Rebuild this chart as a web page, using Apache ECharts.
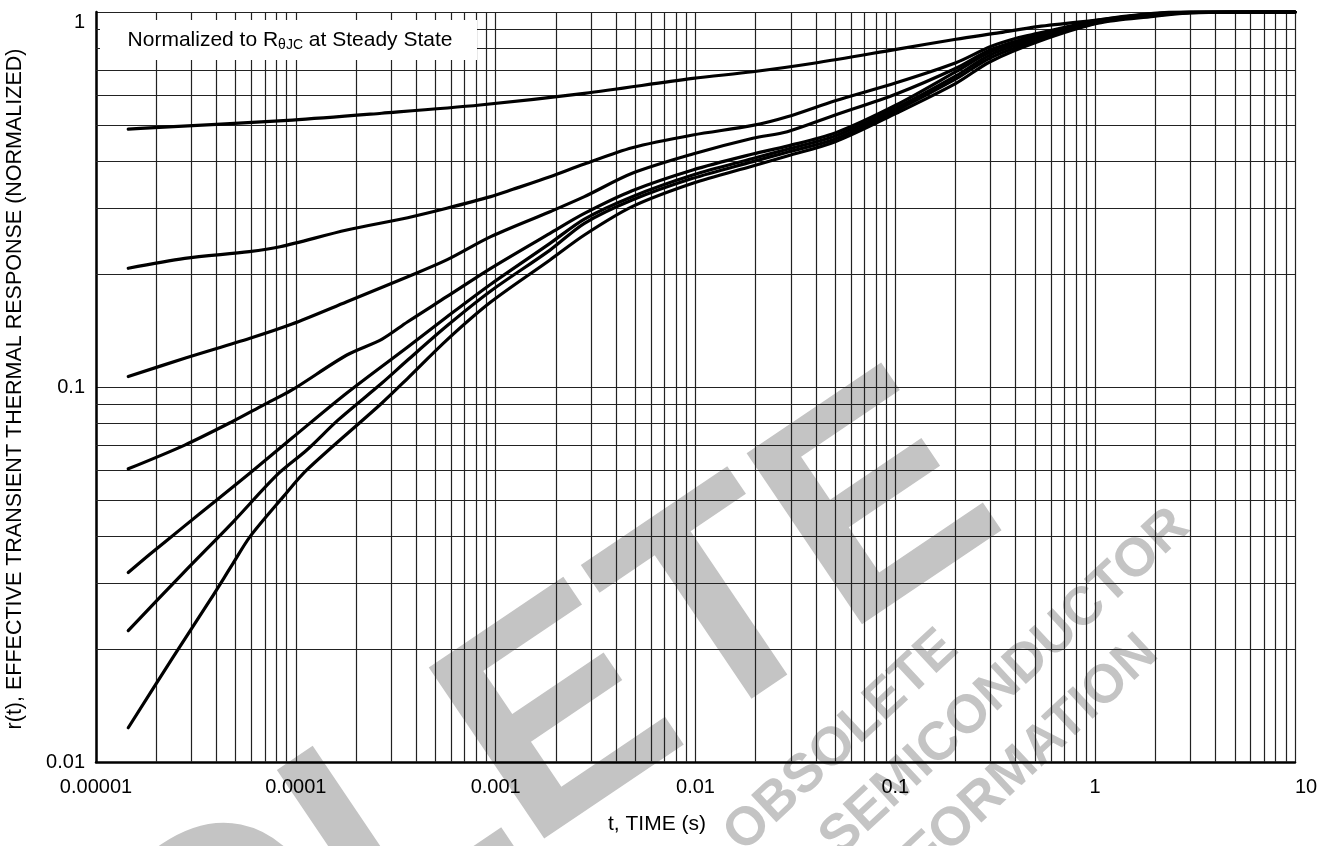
<!DOCTYPE html>
<html>
<head>
<meta charset="utf-8">
<script src="https://cdn.jsdelivr.net/npm/echarts@6/dist/echarts.min.js"></script>
<style>
html,body{margin:0;padding:0;background:#fff;}
#chart{width:1325px;height:846px;}
</style>
</head>
<body>
<div id="chart"></div>
<script>
// ---- data (t in seconds, r(t) normalized) ----
const xTickLabels = ['0.00001', '0.0001', '0.001', '0.01', '0.1', '1', '10'];
const yTickLabels = ['0.01', '0.1', '1'];
const minorMultipliers = [2, 3, 4, 5, 6, 7, 8, 9];
const xDecades = [-5, -4, -3, -2, -1, 0];
const yDecades = [-2, -1];

const curve1 = [[1.45e-5,0.487],[1.86e-5,0.491],[9.6e-5,0.515],[2.69e-4,0.537],[8.35e-4,0.565],[2.78e-3,0.607],[9.69e-3,0.665],[1.935e-2,0.693],[3.9e-2,0.730],[0.101,0.795],[0.201,0.846],[0.334,0.881],[0.516,0.914],[1.03,0.952],[1.96,0.988],[3.0,0.998],[10,1.0]];
const curve2 = [[1.45e-5,0.2073],[2.78e-5,0.2203],[5.85e-5,0.2295],[8.34e-5,0.2366],[1.80e-4,0.2622],[3.63e-4,0.2828],[5.69e-4,0.2996],[9.45e-4,0.3218],[1.22e-3,0.3366],[1.87e-3,0.3637],[2.78e-3,0.3933],[4.82e-3,0.4346],[9.69e-3,0.4699],[1.935e-2,0.4983],[2.88e-2,0.5256],[5.0e-2,0.580],[0.101,0.6477],[0.201,0.7324],[0.298,0.808],[0.403,0.851],[0.516,0.877],[0.730,0.914],[1.03,0.952],[1.96,0.992],[3.0,0.999],[10,1.0]];
const curve3 = [[1.45e-5,0.1066],[2.78e-5,0.1193],[5.9e-5,0.1349],[9.57e-5,0.1472],[1.80e-4,0.1688],[3.63e-4,0.1968],[5.69e-4,0.2182],[9.45e-4,0.2517],[1.87e-3,0.2934],[2.78e-3,0.3218],[4.82e-3,0.3714],[9.69e-3,0.4181],[1.935e-2,0.4605],[2.88e-2,0.4796],[5.0e-2,0.5312],[0.101,0.6044],[0.201,0.7078],[0.298,0.792],[0.516,0.868],[1.03,0.946],[1.96,0.988],[3.0,0.998],[10,1.0]];
const curve4 = [[1.45e-5,0.0605],[2.78e-5,0.0700],[4.8e-5,0.0808],[6.88e-5,0.0895],[9.57e-5,0.0982],[1.80e-4,0.1217],[2.69e-4,0.1340],[3.63e-4,0.1493],[5.69e-4,0.1741],[9.45e-4,0.2073],[1.87e-3,0.2570],[2.78e-3,0.2904],[4.82e-3,0.3338],[9.69e-3,0.3791],[1.935e-2,0.418],[2.88e-2,0.439],[5.0e-2,0.4757],[0.101,0.5649],[0.201,0.6932],[0.298,0.782],[0.516,0.863],[1.03,0.943],[1.96,0.985],[3.0,0.997],[10,1.0]];
const curve5 = [[1.45e-5,0.0320],[1.86e-5,0.0358],[2.73e-5,0.0423],[4.02e-5,0.0500],[5.9e-5,0.0590],[9.57e-5,0.0731],[1.80e-4,0.0964],[3.63e-4,0.1279],[5.69e-4,0.1537],[9.45e-4,0.188],[1.87e-3,0.2416],[2.78e-3,0.2805],[4.82e-3,0.3218],[9.69e-3,0.3675],[1.935e-2,0.4066],[2.88e-2,0.4305],[5.0e-2,0.467],[0.101,0.5546],[0.201,0.6752],[0.298,0.768],[0.516,0.852],[1.03,0.940],[1.96,0.982],[3.0,0.997],[10,1.0]];
const curve6 = [[1.45e-5,0.0224],[2.73e-5,0.0319],[4.86e-5,0.0437],[8.03e-5,0.0582],[1.135e-4,0.0679],[1.63e-4,0.0817],[2.69e-4,0.1023],[3.63e-4,0.1180],[5.69e-4,0.1454],[9.45e-4,0.1803],[1.87e-3,0.2318],[2.78e-3,0.2732],[4.82e-3,0.3152],[9.69e-3,0.3601],[1.935e-2,0.399],[2.88e-2,0.4228],[5.0e-2,0.4585],[0.101,0.5462],[0.201,0.663],[0.298,0.754],[0.516,0.842],[1.03,0.937],[1.96,0.979],[3.0,0.996],[10,1.0]];
const curve7 = [[1.45e-5,0.01234],[2.44e-5,0.0191],[3.72e-5,0.0270],[4.86e-5,0.0339],[5.9e-5,0.0399],[8.66e-5,0.0510],[1.135e-4,0.0601],[2.69e-4,0.0905],[3.63e-4,0.1055],[5.69e-4,0.1334],[9.45e-4,0.1685],[1.87e-3,0.2182],[2.78e-3,0.2543],[4.82e-3,0.3026],[9.69e-3,0.3493],[1.935e-2,0.3885],[2.88e-2,0.413],[5.0e-2,0.4509],[0.101,0.537],[0.201,0.6455],[0.298,0.737],[0.516,0.833],[1.03,0.933],[1.96,0.973],[3.0,0.995],[10,1.0]];
const curves = [curve1, curve2, curve3, curve4, curve5, curve6, curve7];

const axisTitleX = 't, TIME (s)';
const axisTitleY = 'r(t), EFFECTIVE TRANSIENT THERMAL RESPONSE (NORMALIZED)';
const FONT = 'Liberation Sans, Arial, Helvetica, sans-serif';

// minor grid values (2..9 within each decade)
const xMinor = [];
xDecades.forEach(e => minorMultipliers.forEach(m => xMinor.push(m * Math.pow(10, e))));
const yMinor = [];
yDecades.forEach(e => minorMultipliers.forEach(m => yMinor.push(m * Math.pow(10, e))));

const gridLineColor = '#222';

const chart = echarts.init(document.getElementById('chart'), null, {renderer: 'canvas'});

const markLineData = xMinor.map(v => ({xAxis: v})).concat(yMinor.map(v => ({yAxis: v})));

const series = curves.map((d, i) => ({
  type: 'line',
  data: d,
  symbol: 'none',
  showSymbol: false,
  smooth: 0.3,
  clip: false,
  z: 5,
  lineStyle: {color: '#000', width: 3.2, cap: 'round', join: 'round'},
  silent: true
}));
series.push({
  type: 'line',
  data: [],
  symbol: 'none',
  z: 1,
  silent: true,
  markLine: {
    silent: true,
    symbol: 'none',
    precision: 12,
    animation: false,
    label: {show: false},
    lineStyle: {color: gridLineColor, width: 1.2, type: 'solid'},
    emphasis: {disabled: true},
    data: markLineData
  }
});

const option = {
  animation: false,
  backgroundColor: '#fff',
  grid: {left: 96, right: 30, top: 12, bottom: 84, containLabel: false},
  xAxis: {
    type: 'log', logBase: 10, min: 1e-5, max: 10, splitNumber: 6,
    axisLine: {show: true, onZero: false, lineStyle: {color: '#000', width: 2.5}},
    axisTick: {show: false},
    axisLabel: {
      color: '#000', fontSize: 20, fontFamily: FONT, margin: 15,
      alignMaxLabel: 'left',
      formatter: v => { const k = Math.round(Math.log10(v)) + 5; return xTickLabels[k] || ''; }
    },
    splitLine: {show: true, lineStyle: {color: gridLineColor, width: 1.2}}
  },
  yAxis: {
    type: 'log', logBase: 10, min: 0.01, max: 1, splitNumber: 2,
    axisLine: {show: true, onZero: false, lineStyle: {color: '#000', width: 2.5}},
    axisTick: {show: false},
    axisLabel: {
      color: '#000', fontSize: 20, fontFamily: FONT, margin: 11,
      verticalAlignMaxLabel: 'top',
      formatter: v => { const k = Math.round(Math.log10(v)) + 2; return yTickLabels[k] || ''; }
    },
    splitLine: {show: true, lineStyle: {color: gridLineColor, width: 1.2}}
  },
  graphic: [
    // watermark (light grey, behind the grid)
    {type: 'text', z: -1, x: 965, y: 455, rotation: 34 * Math.PI / 180,
     style: {text: 'OBSOLETE', font: 'bold 300px ' + FONT, fill: '#c4c4c4', align: 'right', verticalAlign: 'middle'}},
    {type: 'text', z: -1, x: 1005, y: 683, rotation: 43 * Math.PI / 180,
     style: {text: 'SEMICONDUCTOR', font: 'bold 54px ' + FONT, fill: '#c4c4c4', align: 'center', verticalAlign: 'middle'}},
    {type: 'text', z: -1, x: 950, y: 640, rotation: 43 * Math.PI / 180,
     style: {text: 'OBSOLETE', font: 'bold 54px ' + FONT, fill: '#c4c4c4', align: 'right', verticalAlign: 'middle'}},
    {type: 'text', z: -1, x: 1150, y: 645, rotation: 43 * Math.PI / 180,
     style: {text: 'INFORMATION', font: 'bold 54px ' + FONT, fill: '#c4c4c4', align: 'right', verticalAlign: 'middle'}},
    // note box
    {type: 'rect', z: 100, shape: {x: 100, y: 20, width: 377, height: 40}, style: {fill: '#fff'}},
    {type: 'text', z: 101, x: 290, y: 40,
     style: {
       text: '{n|Normalized to R}{s|θJC}{n| at Steady State}',
       align: 'center', verticalAlign: 'middle',
       rich: {
         n: {fontSize: 21, fontFamily: FONT, fill: '#000', lineHeight: 24, verticalAlign: 'middle'},
         s: {fontSize: 14, fontFamily: FONT, fill: '#000', lineHeight: 10, verticalAlign: 'bottom'}
       }
     }},
    // axis titles
    {type: 'text', z: 101, x: 657, y: 824,
     style: {text: axisTitleX, font: '21px ' + FONT, fill: '#000', align: 'center', verticalAlign: 'middle'}},
    {type: 'text', z: 101, x: 15, y: 389, rotation: Math.PI / 2,
     style: {text: axisTitleY, font: '21.5px ' + FONT, fill: '#000', align: 'center', verticalAlign: 'middle'}}
  ],
  series: series
};
chart.setOption(option);
</script>
</body>
</html>
